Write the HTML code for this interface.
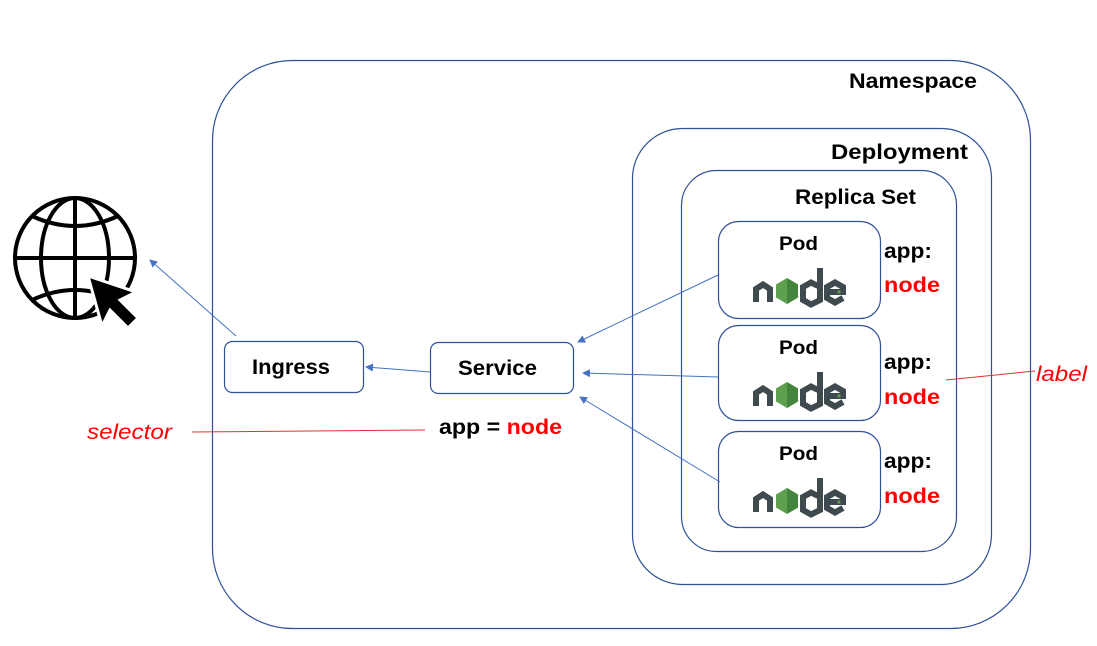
<!DOCTYPE html>
<html><head><style>
html,body{margin:0;padding:0;background:#fff;}
svg{display:block;}
text{font-family:"Liberation Sans",sans-serif;}
</style></head><body>
<svg width="1097" height="646" viewBox="0 0 1097 646" xmlns="http://www.w3.org/2000/svg">
<defs>
<marker id="ar" markerWidth="8" markerHeight="8" refX="7" refY="4" orient="auto" markerUnits="userSpaceOnUse">
<path d="M0,0 L8,4 L0,8 z" fill="#4472c4"/>
</marker>
<g id="logo">
<path d="M756 302 V289 L763 284.5 L770 289 V302" fill="none" stroke="#3f4a4f" stroke-width="6" stroke-linejoin="miter"/>
<polygon points="787,278 798,284.5 798,297.5 787,304 776,297.5 776,284.5" fill="#5fa04e"/>
<polygon points="787,278 798,284.5 798,297.5 787,304" fill="#43853d"/>
<path d="M820 268 V300 L811 304.5 L803 300 V287 L811 282.5 L818 286" fill="none" stroke="#3f4a4f" stroke-width="6"/>
<path d="M843 298 L835 302.5 L827 298 V287 L835 282.5 L843 287 V292 H830" fill="none" stroke="#3f4a4f" stroke-width="6"/>
<circle cx="839" cy="292" r="1.6" fill="#5fa04e"/>
</g>
</defs>

<g fill="none" stroke="#000" stroke-width="4">
<circle cx="75" cy="258" r="60"/>
<ellipse cx="75" cy="258" rx="34" ry="60"/>
<line x1="75" y1="198" x2="75" y2="318"/>
<line x1="15" y1="258" x2="135" y2="258"/>
<path d="M32 216 Q75 236 118 216"/>
<path d="M32 300 Q75 280 118 300"/>
</g>
<polygon points="88,276 136,292 120,300 138,318 128,328 110,310 102,326" fill="#000" stroke="#fff" stroke-width="3"/>

<g fill="none" stroke="#2f4f9a" stroke-width="1.2">
<rect x="212.5" y="60.5" width="818" height="568" rx="80"/>
<rect x="632.5" y="128.5" width="359" height="456" rx="50"/>
<rect x="681.5" y="170.5" width="275" height="381" rx="35"/>
<rect x="718.5" y="221.5" width="162" height="97" rx="20"/>
<rect x="718.5" y="325.5" width="162" height="95" rx="20"/>
<rect x="718.5" y="431.5" width="162" height="96" rx="20"/>
<rect x="224.5" y="341.5" width="139" height="51" rx="8"/>
<rect x="430.5" y="342.5" width="143" height="51" rx="8"/>
</g>

<g font-weight="bold" fill="#000" lengthAdjust="spacingAndGlyphs">
<text x="849" y="88" font-size="21" textLength="128" lengthAdjust="spacingAndGlyphs">Namespace</text>
<text x="831" y="159" font-size="21" textLength="137" lengthAdjust="spacingAndGlyphs">Deployment</text>
<text x="795" y="204" font-size="21" textLength="121" lengthAdjust="spacingAndGlyphs">Replica Set</text>
<text x="779" y="250" font-size="19" textLength="39" lengthAdjust="spacingAndGlyphs">Pod</text>
<text x="779" y="354" font-size="19" textLength="39" lengthAdjust="spacingAndGlyphs">Pod</text>
<text x="779" y="460" font-size="19" textLength="39" lengthAdjust="spacingAndGlyphs">Pod</text>
<text x="252" y="374" font-size="21" textLength="78" lengthAdjust="spacingAndGlyphs">Ingress</text>
<text x="458" y="375" font-size="21" textLength="79" lengthAdjust="spacingAndGlyphs">Service</text>
<text x="439" y="434" font-size="21" textLength="123" lengthAdjust="spacingAndGlyphs">app = <tspan fill="#ff0000">node</tspan></text>
<text x="884" y="258" font-size="21" textLength="48" lengthAdjust="spacingAndGlyphs">app:</text>
<text x="884" y="292" font-size="21" fill="#ff0000" textLength="56" lengthAdjust="spacingAndGlyphs">node</text>
<text x="884" y="369" font-size="21" textLength="48" lengthAdjust="spacingAndGlyphs">app:</text>
<text x="884" y="404" font-size="21" fill="#ff0000" textLength="56" lengthAdjust="spacingAndGlyphs">node</text>
<text x="884" y="468" font-size="21" textLength="48" lengthAdjust="spacingAndGlyphs">app:</text>
<text x="884" y="503" font-size="21" fill="#ff0000" textLength="56" lengthAdjust="spacingAndGlyphs">node</text>
</g>
<text x="87" y="439" font-size="21" font-style="italic" fill="#ff0000" textLength="85" lengthAdjust="spacingAndGlyphs">selector</text>
<text x="1036" y="381" font-size="21" font-style="italic" fill="#ff0000" textLength="51" lengthAdjust="spacingAndGlyphs">label</text>

<use href="#logo"/>
<use href="#logo" y="104"/>
<use href="#logo" y="210"/>

<g stroke="#4472c4" stroke-width="1" fill="none">
<line x1="236" y1="336" x2="150" y2="260" marker-end="url(#ar)"/>
<line x1="430" y1="372" x2="366" y2="367" marker-end="url(#ar)"/>
<line x1="718" y1="275" x2="578" y2="342" marker-end="url(#ar)"/>
<line x1="718" y1="377" x2="583" y2="373" marker-end="url(#ar)"/>
<line x1="720" y1="482" x2="580" y2="397" marker-end="url(#ar)"/>
</g>
<g stroke="#e03030" stroke-width="1">
<line x1="946" y1="380" x2="1035" y2="371"/>
<line x1="192" y1="432" x2="425" y2="430"/>
</g>
</svg>
</body></html>
